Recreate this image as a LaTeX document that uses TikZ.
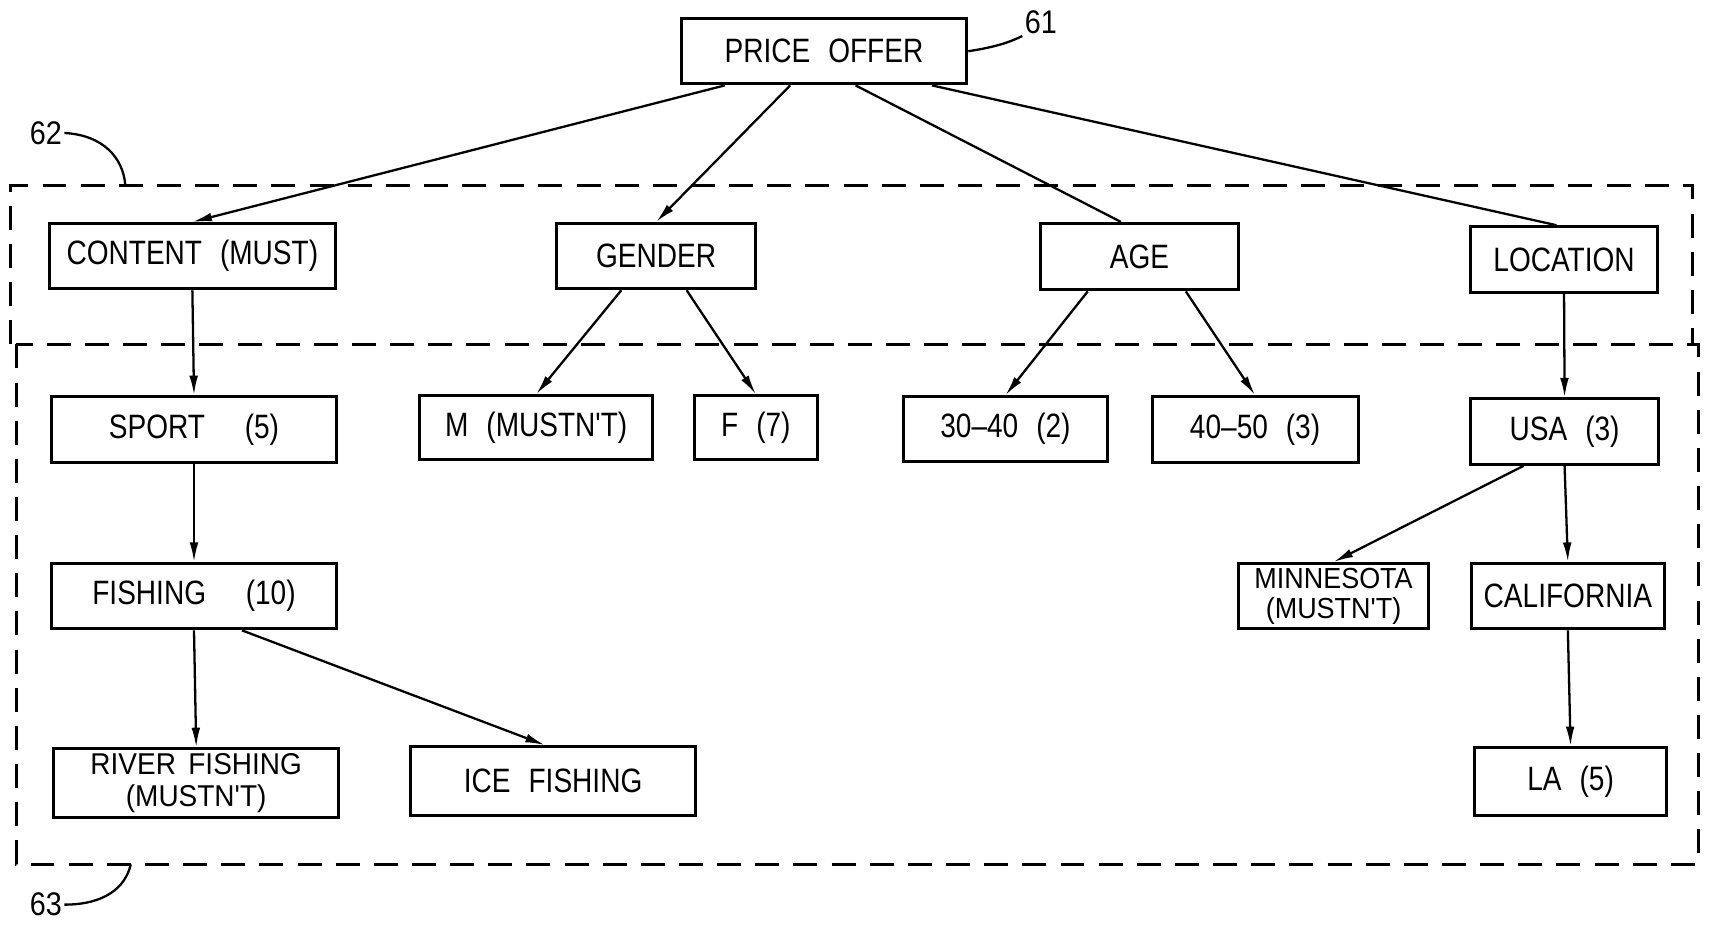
\documentclass[tikz,border=0pt]{standalone}
\usepackage{fontspec}
\setmainfont[FakeStretch=0.88]{Liberation Sans}
\newfontfamily\boxfamily[FakeStretch=0.83,WordSpace=2.3]{Liberation Sans}
\newfontfamily\boxfamilyb[FakeStretch=0.93,WordSpace=1.6]{Liberation Sans}
\usetikzlibrary{arrows.meta,calc}
\begin{document}
\begin{tikzpicture}[x=0.5pt,y=-0.5pt,
  box/.style={draw,line width=1.35pt,inner sep=0pt,align=center,
    font=\boxfamily\fontsize{15.5}{15}\selectfont},
  boxtwo/.style={draw,line width=1.35pt,inner sep=0pt,align=center,
    font=\boxfamilyb\fontsize{13.3}{14}\selectfont},
  arr/.style={line width=1.05pt,-{Latex[length=9pt,width=4pt]}},
  plainline/.style={line width=1.05pt},
  region/.style={line width=1.3pt,dash pattern=on 11pt off 6.5pt},
  refnum/.style={font=\fontsize{15}{15}\selectfont,inner sep=1pt},
  leader/.style={line width=1.05pt}]
\useasboundingbox (0,0) rectangle (1568,850);

% regions
\draw[region] (10,316) -- (10,170) -- (1553,170) -- (1553,316);
\draw[region] (15,316) rectangle (1558,793);

% nodes
\node[box,minimum width=131pt,minimum height=30pt] (po) at (756,47) {PRICE OFFER};
\node[box,minimum width=131.5pt,minimum height=30pt] (content) at (176.5,235) {CONTENT (MUST)};
\node[box,minimum width=91pt,minimum height=30pt] (gender) at (602,235) {GENDER};
\node[box,minimum width=90.5pt,minimum height=30.5pt] (age) at (1045.5,235.5) {AGE};
\node[box,minimum width=86pt,minimum height=30pt] (location) at (1435,238) {LOCATION};
\node[box,minimum width=131pt,minimum height=30pt] (sport) at (178,394) {SPORT\hspace{10pt} (5)};
\node[box,minimum width=107pt,minimum height=29.5pt] (m) at (492,392.5) {M (MUSTN'T)};
\node[box,minimum width=56.5pt,minimum height=29.5pt] (f) at (693.5,392.5) {F (7)};
\node[box,minimum width=93.5pt,minimum height=29.5pt] (a1) at (922.5,393.5) {30\textendash40 (2)};
\node[box,minimum width=94.5pt,minimum height=30pt] (a2) at (1151.5,394) {40\textendash50 (3)};
\node[box,minimum width=86.5pt,minimum height=30pt] (usa) at (1435.5,396) {USA (3)};
\node[box,minimum width=131pt,minimum height=30pt] (fishing) at (178,547) {FISHING\hspace{10pt} (10)};
\node[boxtwo,minimum width=87.5pt,minimum height=30pt] (minn) at (1223.5,547) {MINNESOTA\\(MUSTN'T)};
\node[box,minimum width=88.5pt,minimum height=30pt] (calif) at (1438.5,547) {CALIFORNIA};
\node[boxtwo,minimum width=131pt,minimum height=31.5pt,font=\boxfamilyb\fontsize{13.8}{15}\selectfont] (river) at (180,718.5) {RIVER FISHING\\(MUSTN'T)};
\node[box,minimum width=130.5pt,minimum height=31.5pt] (ice) at (507.5,716.5) {ICE FISHING};
\node[box,minimum width=88pt,minimum height=31pt] (la) at (1441,717) {LA (5)};

% connectors from PRICE OFFER
\draw[arr] ([xshift=-45.5pt]po.south) -- (content.north);
\draw[arr] ([xshift=-15.5pt]po.south) -- (gender.north);
\draw[plainline] ([xshift=14.5pt]po.south) -- ([xshift=-8.5pt]age.north);
\draw[plainline] ([xshift=49.5pt]po.south) -- ([xshift=-3.5pt]location.north);

% second level
\draw[arr] (content.south) -- (sport.north);
\draw[arr] ([xshift=-16pt]gender.south) -- (m.north);
\draw[arr] ([xshift=14pt]gender.south) -- (f.north);
\draw[arr] ([xshift=-23.75pt]age.south) -- (a1.north);
\draw[arr] ([xshift=21.25pt]age.south) -- (a2.north);
\draw[arr] (location.south) -- (usa.north);

% third and fourth level
\draw[arr] (sport.south) -- (fishing.north);
\draw[arr] (fishing.south) -- (river.north);
\draw[arr] ([xshift=22pt]fishing.south) -- ([xshift=-3.75pt]ice.north);
\draw[arr] ([xshift=-18.75pt]usa.south) -- (minn.north);
\draw[arr] (usa.south) -- (calif.north);
\draw[arr] (calif.south) -- (la.north);

% reference numerals
\node[refnum] (n61) at (955,20) {61};
\draw[leader] (po.east) .. controls (915,43) and (928,38) .. (n61.south west);
\node[refnum] (n62) at (42,122) {62};
\coordinate (c62) at (115,170);
\draw[leader] (n62.east) .. controls (95,124) and (113,145) .. (c62);
\node[refnum] (n63) at (42,830) {63};
\coordinate (c63) at (120,793);
\draw[leader] (n63.east) .. controls (95,830) and (115,815) .. (c63);
\end{tikzpicture}
\end{document}
